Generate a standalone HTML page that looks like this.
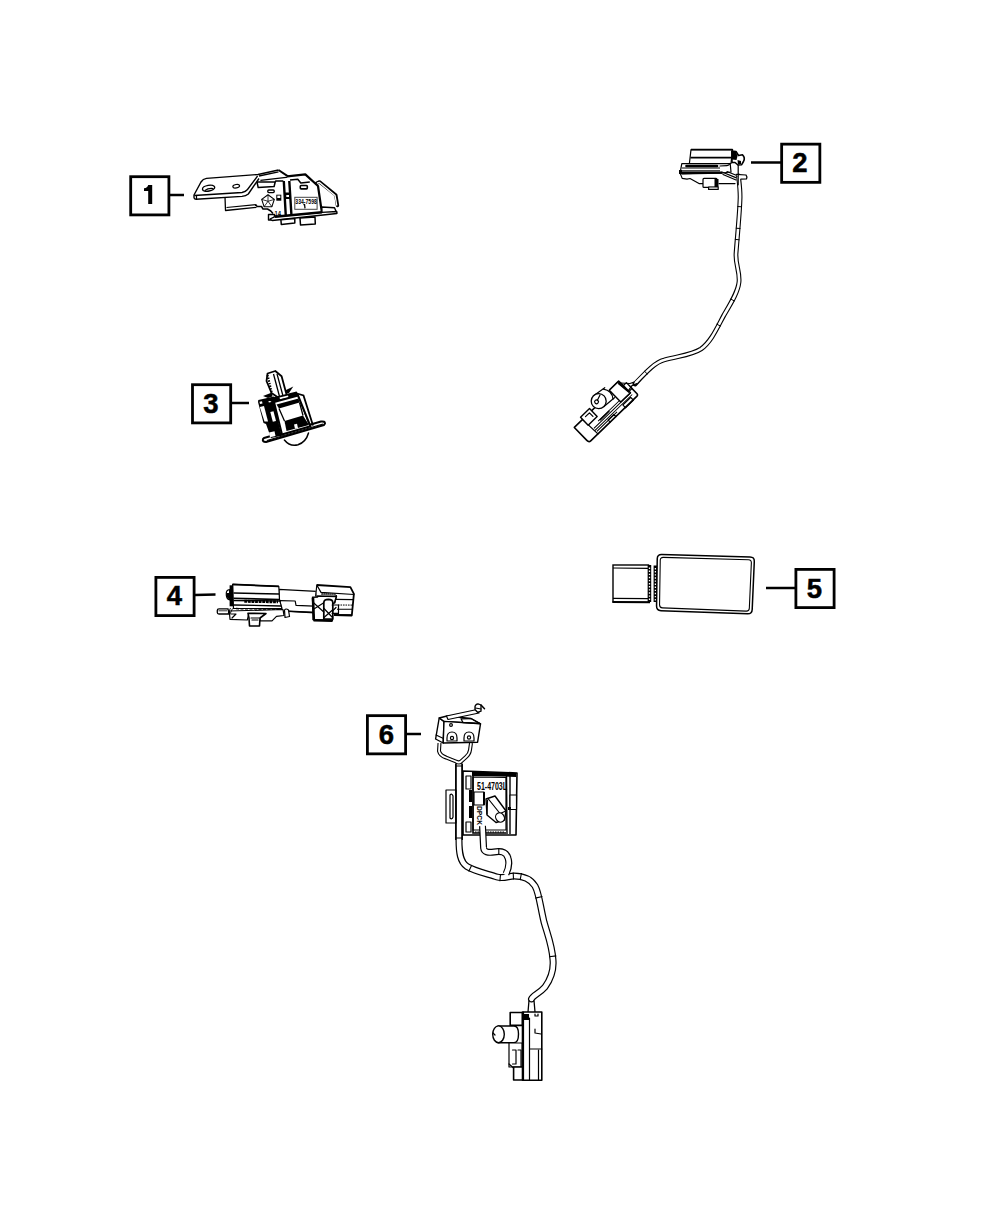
<!DOCTYPE html>
<html><head><meta charset="utf-8">
<style>
html,body{margin:0;padding:0;background:#fff;}
body{width:1000px;height:1214px;overflow:hidden;}
svg{display:block;}
.n{font-family:"Liberation Sans",sans-serif;font-weight:bold;font-size:27.5px;fill:#000;stroke:#000;stroke-width:0.5;}
.b{fill:none;stroke:#000;stroke-width:2.8;}
.l{fill:none;stroke:#000;stroke-width:2.5;}
.s{fill:none;stroke:#000;stroke-width:1.2;stroke-linejoin:round;stroke-linecap:round;}
.t{fill:none;stroke:#000;stroke-width:2;stroke-linejoin:round;stroke-linecap:round;}
.w{fill:#fff;stroke:#000;stroke-width:1.2;stroke-linejoin:round;}
.k{fill:#000;stroke:none;}
</style></head><body>
<svg width="1000" height="1214" viewBox="0 0 1000 1214">
<!-- callout boxes -->
<rect class="b" x="130.70" y="176.70" width="38.2" height="38.2"/>
<path class="k" d="M148.2,185 L152.2,185 L152.2,204 L148.2,204 L148.2,191 L144,191 L144,188.3 Q147.5,188 148.2,185 Z"/>
<line class="l" x1="170" y1="195" x2="184" y2="195"/>

<rect class="b" x="781.65" y="144.15" width="38.2" height="38.2"/>
<text class="n" x="800" y="172" text-anchor="middle">2</text>
<line class="l" x1="751" y1="162.5" x2="781" y2="162.5"/>

<rect class="b" x="192.50" y="384.70" width="38.2" height="38.2"/>
<text class="n" x="210.8" y="412.8" text-anchor="middle">3</text>
<line class="l" x1="232" y1="403" x2="249" y2="403"/>

<rect class="b" x="155.90" y="577.40" width="38.2" height="38.2"/>
<text class="n" x="174.3" y="605" text-anchor="middle">4</text>
<line class="l" x1="195" y1="595" x2="215.5" y2="594.5"/>

<rect class="b" x="795.90" y="569.40" width="38.2" height="38.2"/>
<text class="n" x="814.5" y="597.8" text-anchor="middle">5</text>
<line class="l" x1="766" y1="588" x2="795" y2="588"/>

<rect class="b" x="367.40" y="715.65" width="38.2" height="38.2"/>
<text class="n" x="386.3" y="743.8" text-anchor="middle">6</text>
<line class="l" x1="407" y1="734" x2="421" y2="734"/>


<!-- PART 1 -->
<g id="p1">
<!-- lower tab behind plate -->
<path class="w" d="M225,197 L225.5,210.5 L256.5,207.4 L256,204.6 L258,206 L262,206 L264,208.5 L268,209 L271,211 L273,213.4 L276,216 L283,216 L283,196 Z" style="stroke:none"/>
<path fill="none" stroke="#000" stroke-width="1.3" stroke-linejoin="round" d="M225,197 L225.5,210.5 L256.5,207.4"/>
<path fill="none" stroke="#000" stroke-width="1.1" d="M226.5,207.5 L256,204.6"/>
<path fill="none" stroke="#000" stroke-width="1.5" stroke-linejoin="round" d="M256,204.6 L257,206.5 L261.5,206.5 L263,209 L267.5,209 L270.8,211 L273,213.4"/>
<!-- plate -->
<path fill="#fff" d="M206,178.5 Q203,179 201,182 L194,194 Q193.5,196.5 195,199 L225,197.5 L244,196 Q249,195 252,191 L260,178 L278.5,170 L259,174 Z"/>
<path fill="none" stroke="#000" stroke-width="1.4" stroke-linejoin="round" d="M259,178.5 L248.3,194 Q246,196 242,196.4 L196,199.2 Q194,199 194,197.5 L194,195 L201,182 Q203,179 206.5,178.4 L258,174.5 L278.5,170"/>
<path fill="none" stroke="#000" stroke-width="1.3" stroke-linejoin="round" d="M194.3,195.5 L242,192.5 Q245.5,192 247.5,189.5 L257.6,176"/>
<path class="s" d="M196.5,196 L196.5,199"/>
<ellipse fill="none" stroke="#000" stroke-width="1.4" cx="208.6" cy="188.2" rx="6.2" ry="2.9" transform="rotate(-10 208.6 188.2)"/>
<path class="s" d="M205,190.5 Q208,188 213,188.5"/>
<ellipse fill="none" stroke="#000" stroke-width="1.2" cx="236.2" cy="186.2" rx="3.4" ry="1.7" transform="rotate(-10 236.2 186.2)"/>
<!-- bracket top region -->
<path fill="none" stroke="#000" stroke-width="1.3" d="M259,176 L278.5,171.8"/>
<path fill="none" stroke="#000" stroke-width="1.3" d="M260.4,180.4 L288.4,177.1"/>
<path fill="none" stroke="#000" stroke-width="2" stroke-linejoin="round" d="M278.5,170 L288.4,176.6"/>
<path fill="none" stroke="#000" stroke-width="1.5" stroke-linejoin="round" d="M257,182 L275.2,182 L275.8,181 L283.5,181 M257,182 L258.2,187.6 L274.1,186.5 L275.2,182"/>
<rect fill="none" stroke="#000" stroke-width="1.4" x="267.8" y="190" width="6.4" height="2.6" rx="1"/>
<!-- pentastar -->
<path fill="none" stroke="#000" stroke-width="1.1" stroke-linejoin="round" d="M268,194.8 L274.3,199.4 L271.9,206.7 L264.1,206.7 L261.7,199.4 Z"/>
<path fill="none" stroke="#000" stroke-width="0.8" d="M268,194.8 L268,201.3 M274.3,199.4 L268,201.3 M271.9,206.7 L268,201.3 M264.1,206.7 L268,201.3 M261.7,199.4 L268,201.3"/>
<rect class="k" x="276.3" y="194.7" width="5" height="6"/>
<rect fill="#fff" x="277.3" y="195.6" width="3" height="2.4"/>
<rect class="w" x="268.5" y="214.5" width="6" height="5.5" style="stroke-width:1.4"/>
<text x="274.5" y="216.2" style="font-family:'Liberation Sans',sans-serif;font-size:6.5px;font-weight:bold" textLength="6.5" lengthAdjust="spacingAndGlyphs">14</text>
<!-- main housing -->
<path fill="#fff" d="M283,181 L288,177 L305.5,174.5 L318,186 L321.8,211.5 L284,216.5 Z"/>
<path fill="none" stroke="#000" stroke-width="2.2" stroke-linejoin="round" d="M287.3,176.3 L305.3,174.4 L318,186 L321.8,211.8"/>
<path fill="none" stroke="#000" stroke-width="2.4" d="M283.8,181 L285.8,216 M289.3,181 L291.5,216"/>
<path class="k" d="M284.5,192.5 L290.3,192.5 L290.6,199 L284.8,199 Z"/>
<path fill="#fff" d="M286.3,195 L289,195 L289,197 L286.3,197 Z"/>
<path fill="none" stroke="#000" stroke-width="1.5" stroke-linejoin="round" d="M290,180 L297.8,179.3 L300.8,183 L309.8,181.9"/>
<rect fill="none" stroke="#000" stroke-width="1.6" x="300.3" y="185.5" width="7" height="3.4" rx="0.8"/>
<rect fill="none" stroke="#444" stroke-width="1" x="294.8" y="197.3" width="22.3" height="12"/>
<text x="295.3" y="204.2" style="font-family:'Liberation Sans',sans-serif;font-size:7px;font-weight:bold" textLength="21.5" lengthAdjust="spacingAndGlyphs">334-7598</text>
<path fill="none" stroke="#000" stroke-width="1.3" d="M304.5,204 L305,208.3 M303.5,205 L304.6,204.2"/>
<!-- wire clip -->
<path fill="none" stroke="#000" stroke-width="3.4" stroke-linecap="round" stroke-linejoin="round" d="M316.5,183.2 L319.5,181.9 L335.8,195 L337.5,205.5"/>
<path fill="none" stroke="#fff" stroke-width="1.3" stroke-linecap="round" stroke-linejoin="round" d="M317.5,183 L319.5,182.5 L335,195.4 L336.7,205"/>
<!-- flange and base -->
<path class="w" d="M321.8,207 L334.5,207.8 L336.8,213 L322,213.5 Z" style="stroke-width:1.4"/>
<path fill="#fff" stroke="#000" stroke-width="1.3" stroke-linejoin="round" d="M274.5,216.8 L321.8,212.3 L336.8,211.5 L336.8,213.5 L272.3,220.5 L270,219 Z"/>
<path fill="none" stroke="#000" stroke-width="2.6" d="M275,216.8 L322,212.3"/>
<path fill="#fff" stroke="#000" stroke-width="1.5" stroke-linejoin="round" d="M280.9,219.8 L294.8,218.5 L294.8,223 L281.3,224.5 Z"/>
<path fill="#fff" stroke="#000" stroke-width="1.5" stroke-linejoin="round" d="M300,218 L315,217 L315.3,224 L300.5,225 Z"/>
</g>

<!-- PART 2 -->
<g id="p2">
<!-- wire -->
<path fill="none" stroke="#000" stroke-width="4.8" stroke-linecap="round" stroke-linejoin="round" d="M738.5,176 C739.5,185 740.5,192 740,200 C739.5,215 737,240 736,254 C735.5,265 740,272 739,282 C738,292 731,303 724,315 C717,328 711,342 701,349 C692,355 678,356 664,360 C656,362 648,370 635,384"/>
<path fill="none" stroke="#fff" stroke-width="2.6" stroke-linecap="round" stroke-linejoin="round" d="M738.5,177 C739.5,185 740.5,192 740,200 C739.5,215 737,240 736,254 C735.5,265 740,272 739,282 C738,292 731,303 724,315 C717,328 711,342 701,349 C692,355 678,356 664,360 C656,362 648,370 635.5,383"/>
<path fill="none" stroke="#000" stroke-width="1" d="M737.4,206.5 L742.0,206.8 M735.8,228.2 L740.4,228.5 M734.9,239.4 L739.5,239.8 M730.5,298.9 L734.6,301.1 M716.6,324.1 L720.7,326.2 M644.3,371.0 L647.5,374.2"/>
<!-- header -->
<path class="w" d="M691,149.6 L732.6,149.6 L731,163.5 L689.4,163.5 Z"/>
<path fill="none" stroke="#000" stroke-width="1.7" d="M691,149.6 L732.6,149.6"/>
<path fill="none" stroke="#000" stroke-width="1.6" d="M690.5,157.6 L731,157.6"/>
<path class="w" d="M681.8,163.6 L730.2,163.6 L731,172 L722,173 L680,173.6 Z"/>
<path fill="none" stroke="#000" stroke-width="2.6" stroke-linecap="round" d="M686.5,166 L717,166"/>
<path fill="none" stroke="#000" stroke-width="1" d="M682,168 L720,168 M682,170.8 L720,170.8"/>
<path fill="none" stroke="#000" stroke-width="2" d="M680,172.6 L722,172.4"/>
<path class="k" d="M679,170 L682,170 L682,174 L679,174 Z"/>
<path class="s" d="M730,163.5 Q729,165.5 727,165.6 L720,166"/>
<path class="s" d="M680.6,174.4 L682.2,178.4 L687,179.2 L690,178.5 L699,183.6 L703,183.6"/>
<path class="s" d="M682,173.8 L722,173.2"/>
<!-- connector box -->
<rect class="w" x="703" y="178.4" width="14" height="9" rx="1"/>
<rect class="k" x="714.5" y="179" width="4" height="8"/>
<rect class="w" x="708.6" y="187" width="9.6" height="2.4"/>
<path class="s" d="M719,183.6 L735,183.6"/>
<!-- bracket -->
<path class="s" d="M722,172 L735.8,177.6 M723,174.5 L736,180 M727,171.5 L738,176"/>
<path class="w" d="M735.8,174.4 L746,175 Q747.5,176.8 746.5,179 L740.6,179.2"/>
<path class="s" d="M738.2,156 L738.2,184.8"/>
<path fill="#fff" stroke="#000" stroke-width="1.6" stroke-linejoin="round" d="M731.8,151 L736,151.5 L738.5,155.5 L742.5,154.8 Q745.5,157.5 743.5,161.5 L741.5,164.8 L738,165 L735,162.5 L732,162.5 Z"/>
<path class="k" d="M732,151.5 L736,152 L737.5,156 L736.5,160 L732,159.5 Z"/>
<path class="k" d="M737.5,160 L741,161 L741,164 L738,164.5 Z"/>
</g>
<!-- PART 2 connector -->
<g transform="translate(590,441.5) rotate(-44)">
<path class="w" d="M-1.5,-21 L49.5,-21 L49.5,-23.5 L62.5,-23.5 L63,-13 L67,-13 L67,-2 Q67,0 65,0 L1,0 Q-1.5,0 -1.5,-3 Z" style="stroke-width:1.6"/>
<path class="s" d="M10,-21 L11,0"/>
<path fill="none" stroke="#000" stroke-width="1" d="M11,-4.5 L63,-4.5 M12,-6.8 L63,-6.8 M20,-9 L49,-9 M12,-2.5 L40,-2.5"/>
<path fill="none" stroke="#000" stroke-width="1.5" d="M22,-8.5 L35,-8.5"/>
<path class="w" d="M10,-24 L22.5,-24 L22.5,-13 L10,-13 Z" style="stroke-width:1.4"/>
<path class="s" d="M14,-21 L19.5,-21 L19.5,-16"/>
<path class="w" d="M34,-30.5 L50,-28.5 L50,-14.5 L34,-15.5 Z" style="stroke:none"/>
<path class="s" d="M34,-30.5 L48,-28.5 M34,-15.5 L48,-14.5"/>
<path class="s" d="M46,-28.5 Q51.5,-21.5 46,-14.5"/>
<circle fill="#fff" stroke="#000" stroke-width="1.3" cx="34.3" cy="-23" r="7.5"/>
<circle class="s" cx="32.3" cy="-24" r="1.9"/>
<path class="s" d="M34,-24.6 L39.5,-26.5"/>
<path class="w" d="M49.5,-23.5 L61,-23.5 L63,-7 L49.5,-7 Z" style="stroke-width:1.5"/>
<path fill="none" stroke="#000" stroke-width="2" d="M61,-22 L62.5,-8"/>
<path class="w" d="M63,-17 L67,-17 L67,-9 L63,-9 Z"/>
<path class="s" d="M62.5,-21 L69,-14 L73,-12"/>
<path class="s" d="M63,-10 L69,-11 L74,-9"/>
<path class="s" d="M49,-3.5 L60,-3.5 L60,0.5 L49,0.5 Z"/>
<path class="s" d="M28,-3 L36,-3 L36,0 M28,-3 L28,0"/>
</g>

<!-- PART 3 -->
<g id="p3">
<!-- dome -->
<path class="s" d="M284.4,440 Q290,447 298,444.8 Q306,442 308.5,433" style="stroke-width:1.5"/>
<!-- base plate -->
<path class="w" d="M264,438 L321,421.5 Q325,421 325,423.5 L324,425 L266,442 Q262,442 263,439 Z" style="stroke-width:2"/>
<path fill="none" stroke="#000" stroke-width="1.3" d="M267,440.5 L323,424"/>
<!-- left panel -->
<path class="k" d="M258.3,400 L274,396.5 L283,435.5 L271,438 L266,424 L263.5,423 L258,402 Z"/>
<path fill="#fff" d="M259.8,407 L264,406 L268,421.5 L264.5,421.5 Z"/>
<path fill="#fff" d="M259.5,401.8 L262,401.3 L262.5,403.5 L260,404 Z"/>
<path fill="#fff" d="M270.3,412 L273.5,411.2 L276,421 L272.8,421.8 Z"/>
<path fill="#fff" d="M275,407.2 L277.5,406.6 L279.3,414 L276.8,414.6 Z"/>
<path fill="#fff" d="M278,420.5 L280.5,420 L284,434.5 L281.5,435 Z"/>
<path fill="#fff" d="M269,432.5 L274.5,431.3 L275.5,436 L270,437.2 Z"/>
<path fill="#fff" d="M268.5,401 L271,400.5 L271.3,402 L268.8,402.5 Z"/>
<!-- wings -->
<path class="k" d="M263,396 L272,392.5 L272.5,396.5 L268,398 Z"/>
<path class="k" d="M286,390 L293.3,386.5 L289,393 L285,394 Z"/>
<!-- plunger -->
<path class="w" d="M267.5,373.5 L275.3,371 L281.6,376.2 L286.8,395.6 L278.5,397.8 L271.5,393 L266.5,381 Z" style="stroke-width:1.8"/>
<path fill="none" stroke="#000" stroke-width="1.3" d="M273.5,374 L279.5,396.5 M277,373.8 L283,396"/>
<path fill="none" stroke="#000" stroke-width="2.2" stroke-dasharray="1.5 1.2" d="M267.5,375 L272,394"/>
<!-- top band -->
<path class="k" d="M264,399.5 L296.5,391.5 L299,395 L273.5,402 Z"/>
<path fill="#fff" d="M279.5,397.5 L288,395.5 L288.5,397.5 L280,399.3 Z"/>
<!-- body front frame -->
<path class="w" d="M274,402 L298,395.5 L310.5,426.3 L282,434.5 Z" style="stroke-width:2"/>
<path class="k" d="M276.5,404.5 L298.5,398.5 L299.5,402.5 L279,408.5 Z"/>
<path class="k" d="M284.5,421 L303,415.5 L309,425 L286.5,431 Z"/>
<path fill="#fff" d="M294,424.5 L297,423.7 L298,428 L295,428.8 Z"/>
<path fill="none" stroke="#000" stroke-width="1.3" d="M279,408.5 L284.5,421 M299.5,402.5 L303,415.5"/>
<path fill="none" stroke="#000" stroke-width="1.3" d="M285,423.5 L303.5,418"/>
<!-- right side -->
<path fill="none" stroke="#000" stroke-width="1.8" d="M297,393.5 L303.5,395.5 L313,425.5"/>
<path fill="none" stroke="#000" stroke-width="1" d="M299,398 L309,424.5"/>
</g>

<!-- PART 4 -->
<g id="p4">
<!-- middle section -->
<path class="w" d="M278.8,589.4 L316.4,591.4 L316,612.6 L282,611 L279.5,600 Z"/>
<path class="s" d="M280,600.6 L295.2,601 L296,605.4 L314,606.2"/>
<path fill="none" stroke="#000" stroke-width="1.6" d="M284,611 L315,612.6"/>
<!-- bottom bracket -->
<path class="w" d="M229.3,611 L283,609.5 L284,615.5 L276.5,616.3 L272,620.8 L260,620.8 L260,614 L248.8,614 L247.3,620 L230,619.3 Z"/>
<path class="w" d="M248,613.3 L266,613.5 L260,618 L259.5,626 L249.5,626 L249,618 Z" style="stroke-width:1.6"/>
<path class="s" d="M251,618 L259,618 M252,620 L258,620"/>
<path class="s" d="M231,614 L236,614 L232,618"/>
<!-- left pin -->
<path fill="#fff" stroke="#000" stroke-width="1.3" d="M217.3,610.5 Q217.3,608.8 219,608.8 L228,608.8 L229,614 L219,614 Q217.3,614 217.3,612.5 Z"/>
<path fill="none" stroke="#000" stroke-width="0.8" d="M218.5,610.8 L227,610.8"/>
<path fill="none" stroke="#000" stroke-width="0.9" d="M228,613.5 L230.5,608 M230,614 L232.5,608.5"/>
<!-- left block -->
<path class="w" d="M232.6,584.4 L278.8,586.3 L279.5,599.8 L282,608.5 L233.5,608.5 Z"/>
<path fill="none" stroke="#000" stroke-width="1.8" d="M232.6,584.4 L278.8,586.3"/>
<path fill="none" stroke="#000" stroke-width="1.6" d="M233.5,593 L279,594 M233.5,598.3 L279.5,599.5"/>
<path fill="none" stroke="#000" stroke-width="1.3" d="M233.5,605 L281,606 M233.5,600.5 L281,601"/>
<path fill="none" stroke="#000" stroke-width="3" stroke-dasharray="2.8 0.8" d="M244.3,601.3 L278,601.8"/>
<path fill="none" stroke="#000" stroke-width="1.5" stroke-dasharray="3 1.5" d="M236,608.6 L282,609.2"/>
<rect class="k" x="229.6" y="585.3" width="3.6" height="21"/>
<path class="w" d="M229.6,589.5 Q226,590 226.3,594 Q226,599 229.6,599.8 Z"/>
<path class="k" d="M226.5,593 L229.6,593 L229.6,599.5 Q227,599 226.5,596 Z"/>
<!-- right knob -->
<path class="w" d="M284.5,610 Q286,608 288.5,610 L289.5,616.5 L285,617.5 Z"/>
<!-- right block -->
<path class="w" d="M316.8,585 L350.4,587.1 L353.9,593.8 L351.8,615.5 L320,615 L315.7,591 Z" style="stroke:none"/>
<path fill="none" stroke="#000" stroke-width="1.8" stroke-linejoin="round" d="M316.8,585 L350.4,587.1 L353.9,593.8 L351.8,615.5 L334,615.2"/>
<path class="s" d="M316.8,585 L321,592.4 L353.9,594.5 M316.8,585 L315.7,596"/>
<path fill="none" stroke="#000" stroke-width="2.2" stroke-dasharray="1.2 0.8" d="M321.5,593.8 L336,594.6"/>
<path fill="none" stroke="#000" stroke-width="1.1" d="M335.5,599.4 L353,599.6 M337,609.2 L352.5,609.3"/>
<path fill="none" stroke="#000" stroke-width="1" stroke-dasharray="1.6 0.9" d="M338,605 L352.8,605.1"/>
<path fill="none" stroke="#000" stroke-width="1.5" d="M334,614.8 L352,614.9"/>
<path fill="none" stroke="#000" stroke-width="1.4" d="M336.4,595 L334.5,603"/>
<!-- clip -->
<path class="w" d="M312.6,597.3 L317.5,597 L317.5,596 L336.4,596.5 L334.5,603 L332.2,603.5 L332.2,620.4 L313.5,620 Z" style="stroke-width:1.6"/>
<path fill="none" stroke="#000" stroke-width="2.6" d="M313,598 L313.8,620"/>
<path fill="none" stroke="#000" stroke-width="2.6" d="M313.5,620.3 L332.5,620.6"/>
<path fill="none" stroke="#000" stroke-width="1.8" d="M332.2,603.5 L332.2,620.4"/>
<path class="w" d="M323.8,619 L323.8,602.5 Q324,599.4 328.3,599.4 Q332.8,599.6 332.8,602.5 L332.8,619 Z" style="stroke-width:1.7"/>
<path class="s" d="M324,617.5 L332.5,610 M324,608.5 L332.5,617.5"/>
<path class="s" d="M313.5,602.8 L323.8,612 M313.5,609.2 L323.8,602.8"/>
<path class="s" d="M332.2,605 L338.5,605 L338.5,613.4 L332.2,613.4 M332.5,611 L336,607.5"/>
</g>

<!-- PART 5 -->
<g id="p5">
<rect x="613" y="565" width="35.5" height="37" fill="#fff" stroke="#000" stroke-width="1.4"/>
<path fill="none" stroke="#000" stroke-width="1.2" d="M613,568 L648,568.3 M613,598.4 L648,598.6"/>
<path fill="none" stroke="#000" stroke-width="1.8" d="M612.5,602 L650,602.3"/>
<rect x="647.8" y="565" width="3.4" height="37" fill="#000"/>
<rect x="653.6" y="565.5" width="3.7" height="36.5" fill="#000"/>
<path fill="none" stroke="#fff" stroke-width="1.3" stroke-dasharray="1.4 1.7" d="M649.5,567.5 L649.5,601 M655.4,568 L655.4,601"/>
<path fill="#fff" stroke="#000" stroke-width="1.5" d="M657.24,558.80 Q657.30,554.30 661.80,554.42 L750.00,556.88 Q754.50,557.00 754.30,561.50 L752.20,609.50 Q752.00,614.00 747.50,613.84 L661.00,610.66 Q656.50,610.50 656.56,606.00 Z"/>
<path fill="none" stroke="#000" stroke-width="1.1" d="M660.25,560.30 Q660.30,557.30 663.30,557.38 L748.50,559.72 Q751.50,559.80 751.37,562.80 L749.33,608.20 Q749.20,611.20 746.20,611.09 L662.50,607.91 Q659.50,607.80 659.55,604.80 Z"/>
</g>

<!-- PART 6 -->
<g id="p6">
<!-- thick wire (merged) -->
<path fill="none" stroke="#000" stroke-width="7" stroke-linecap="round" stroke-linejoin="round" d="M459,764 L459,840 C459,852 460,862 467,866.5 C474,871 488,874 497,877 C503,879 509,876 514,876 C522,876 530,878 535,886 C539,893 540,905 544,922 C548,936 552,945 553,960 C554,972 550,980 545,987 C539,994 533,995 531.5,999"/>
<path fill="none" stroke="#fff" stroke-width="4.6" stroke-linecap="round" stroke-linejoin="round" d="M459,764 L459,840 C459,852 460,862 467,866.5 C474,871 488,874 497,877 C503,879 509,876 514,876 C522,876 530,878 535,886 C539,893 540,905 544,922 C548,936 552,945 553,960 C554,972 550,980 545,987 C539,994 533,995 531.5,999"/>

<!-- sensor body -->
<path class="w" d="M463,771 L517,773 L516,835 L463,835 Z" style="stroke-width:1.6"/>
<path class="k" d="M472,771.5 L516,773 L516,777 L472,776 Z"/>
<path class="w" d="M473,777 L506,777.5 L506,830 L473,830 Z"/>
<path fill="none" stroke="#000" stroke-width="1.6" d="M473,776 L473,833 L506,833"/>
<path fill="none" stroke="#000" stroke-width="1.4" d="M506.5,774 L507,834 M510,774 L510,834"/>
<path class="s" d="M466,776 L471,776 L471,789 L466,789 Z M466,822 L471,822 L471,832 L466,832 Z"/>
<path class="k" d="M469,790 L472,790 L472,802 L469,802 Z M469,806 L472,806 L472,818 L469,818 Z"/>
<rect class="w" x="446" y="790" width="10" height="33"/>
<path class="s" d="M450,795 Q452,793 453,796 L453,817 Q452,820 450,818 Z"/>
<rect class="w" x="510" y="795" width="6.5" height="14.5"/>
<path class="k" d="M508,807 L511,807 L511,810 L508,810 Z"/>
<text x="477" y="790.3" style="font-family:'Liberation Sans',sans-serif;font-size:10.5px;font-weight:bold" textLength="30" lengthAdjust="spacingAndGlyphs">51-4703L</text>
<text transform="translate(476.5,806) rotate(90)" style="font-family:'Liberation Sans',sans-serif;font-size:8px;font-weight:bold" textLength="19" lengthAdjust="spacingAndGlyphs">DPCK</text>
<path class="w" d="M474,792 L484,792 L484,805 L474,805 Z"/>
<path class="k" d="M483,792 L485,792 L485,805 L483,805 Z"/>
<path class="w" d="M486,799 L495,796 L506,811 L504.5,820 L496,822.5 L487,815 Z" style="stroke-width:1.4"/>
<path class="s" d="M488,798.5 L500,813.5 L506,811"/>
<path class="s" d="M487.5,800 L487,814"/>
<ellipse class="w" cx="500" cy="817.5" rx="4.2" ry="4.8" transform="rotate(-35 500 817.5)"/>
<path fill="none" stroke="#000" stroke-width="1.2" stroke-dasharray="1.5 1" d="M475,832 L505,832"/>
<!-- small wire from sensor -->
<path fill="none" stroke="#000" stroke-width="7" stroke-linejoin="round" d="M482.5,826 L483.6,848 C484,852 488,853 494,852 C500,851 506,851 508,858 C510,864 508,870 506,874"/>
<path fill="none" stroke="#fff" stroke-width="4.6" stroke-linejoin="round" d="M482.5,825 L483.6,848 C484,852 488,853 494,852 C500,851 506,851 508,858 C510,864 508,870 505.5,875"/>
<path fill="none" stroke="#000" stroke-width="1.1" d="M455.4,766.0 L462.6,766.0 M455.4,838.0 L462.6,838.0 M468.7,871.5 L471.8,865.0 M499.9,881.2 L500.5,874.1 M513.5,879.6 L513.2,872.4 M520.1,880.1 L521.5,873.0 M535.3,898.1 L542.4,896.5 M549.1,956.7 L556.3,955.9 M498.8,855.1 L498.8,847.9"/>
<!-- vertical wire over body left -->
<path fill="none" stroke="#000" stroke-width="1.3" d="M455.7,764 L455.7,840 M462.3,764 L462.3,840"/>
<!-- micro switch wires -->
<path fill="none" stroke="#000" stroke-width="4" stroke-linejoin="round" d="M439.5,743 L439,751 Q440,755.5 446,757.5 L456,761.5 Q459,763.5 461,761.5 L466,757 Q469.5,754 470,750 L471,743"/>
<path fill="none" stroke="#fff" stroke-width="1.8" stroke-linejoin="round" d="M439.5,743 L439,751 Q440,755.5 446,757.5 L456,761.5 Q459,763.5 461,761.5 L466,757 Q469.5,754 470,750 L471,743"/>
<!-- micro switch -->
<path class="w" d="M439.2,718 L444,721.4 L443.2,743 L435.6,739 Z" style="stroke-width:1.4"/>
<path class="s" d="M436,735 L443.5,738.5"/>
<path class="w" d="M439.2,718 L447,716 L471,718.5 L480.5,723.8 L444,721.4 Z" style="stroke-width:1.4"/>
<path class="w" d="M444,721.4 L480.5,723.8 L477.6,742.2 L443.2,743 Z" style="stroke-width:1.4"/>
<path class="s" d="M461,718.8 L471,718.6 L480,723.6 L463,722.6 Z"/>
<path class="w" d="M446.4,716 L477,709.5 L479,713 L448,719.5 Z"/>
<path class="w" d="M475,706.5 Q475.5,704 478,703.8 L481,705 L481,711.2 L477.5,712.3 L475,709.5 Z" style="stroke-width:1.3"/>
<path class="s" d="M481,705 L484.5,708.8" style="stroke-width:1.5"/>
<path class="s" d="M475.5,708 L481,709"/>
<circle class="s" cx="451" cy="725" r="1.4"/>
<path class="w" d="M447,741 L447,738 Q447,732 452,732 Q457,732 457,738 L457,741 Z"/>
<circle class="s" cx="452" cy="738" r="1.6"/>
<path class="w" d="M464,741 L464,738 Q464,732 469,732 Q474,732 474,738 L474,741 Z"/>
<circle class="s" cx="469" cy="737.5" r="1.6"/>
<!-- bottom connector -->
<path fill="none" stroke="#000" stroke-width="1.3" d="M529,1000.5 L528,1012 M534,1000.5 L535,1012"/>
<path class="w" d="M510.2,1012.5 L522.5,1012.5 L522.5,1025.4 L510.2,1025.4 Z" style="stroke-width:1.6"/>
<path class="w" d="M522.5,1012 L541.8,1012 L541.8,1080.3 L522.5,1080.3 Z" style="stroke-width:1.6"/>
<path class="s" d="M523.5,1012 L523.5,1080 M529.5,1018 L529.5,1049 L541.8,1049 M529.5,1049 L529.5,1080"/>
<path class="k" d="M524,1014 L529,1014 L529,1020 L524,1020 Z"/>
<path class="s" d="M535,1014 L535,1016 L538,1016 L538,1014 M535,1029 L535,1033 L541,1034"/>
<path class="s" d="M538.5,1050 L538.5,1080"/>
<path class="w" d="M498,1026 L514,1026 Q518.5,1026 518.5,1034 Q518.5,1042.7 514,1042.7 L498,1042.7 Z" style="stroke-width:1.4"/>
<ellipse class="w" cx="498.5" cy="1034.3" rx="5.8" ry="8.4" style="stroke-width:1.4"/>
<path class="s" d="M493,1033 L495,1035"/>
<path class="w" d="M509,1043 L522,1043 L522,1067 L509,1067 Z"/>
<path class="s" d="M512.5,1050 L516,1050 L516,1064 L512.5,1064 M518,1050 L521,1050 L521,1068"/>
<path class="w" d="M513.6,1067 L522.5,1067 L522.5,1080 L513.6,1080 Z" style="stroke-width:1.6"/>
<path class="s" d="M509,1064 L513.6,1068"/>
</g>
</svg>
</body></html>
